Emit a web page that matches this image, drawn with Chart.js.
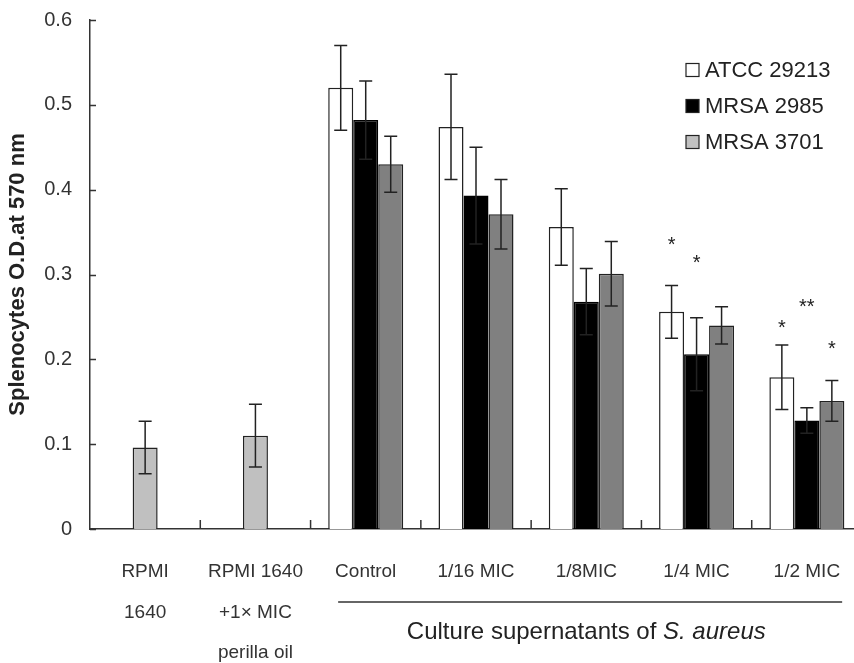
<!DOCTYPE html>
<html><head><meta charset="utf-8">
<script src="https://cdn.jsdelivr.net/npm/chart.js@4"></script>
<style>
html,body{margin:0;padding:0;background:#fff;overflow:hidden;width:854px;height:663px}
#wrap{position:relative;width:862px;height:663px}
</style></head>
<body><div id="wrap"><canvas id="c"></canvas></div>
<script>
// ---- data ----
const categories = [['RPMI','1640'], ['RPMI 1640','+1× MIC','perilla oil'], 'Control', '1/16 MIC', '1/8MIC', '1/4 MIC', '1/2 MIC'];
const seriesNames = ['ATCC 29213', 'MRSA 2985', 'MRSA 3701'];
const mediumValues   = [0.096, 0.110, null, null, null, null, null];
const mediumErrors   = [0.031, 0.037, null, null, null, null, null];
const atccValues     = [null, null, 0.520, 0.474, 0.356, 0.256, 0.179];
const atccErrors     = [null, null, 0.050, 0.062, 0.045, 0.031, 0.038];
const mrsa2985Values = [null, null, 0.482, 0.393, 0.268, 0.206, 0.128];
const mrsa2985Errors = [null, null, 0.046, 0.057, 0.039, 0.043, 0.015];
const mrsa3701Values = [null, null, 0.430, 0.371, 0.301, 0.240, 0.151];
const mrsa3701Errors = [null, null, 0.033, 0.041, 0.038, 0.022, 0.024];
const atccSig        = ['', '', '', '', '', '*', '*'];
const mrsa2985Sig    = ['', '', '', '', '', '*', '**'];
const mrsa3701Sig    = ['', '', '', '', '', '', '*'];
const atccSigLevel     = [null, null, null, null, null, 0.340, 0.242];
const mrsa2985SigLevel = [null, null, null, null, null, 0.318, 0.266];
const mrsa3701SigLevel = [null, null, null, null, null, null, 0.217];
const yTickValues = [0, 0.1, 0.2, 0.3, 0.4, 0.5, 0.6];
const yTitle = 'Splenocytes O.D.at 570 nm';
const groupTitleNormal = 'Culture supernatants of ';
const groupTitleItalic = 'S. aureus';

const FONT = '"Liberation Sans", Arial, sans-serif';

const decor = {
  id: 'decor',
  afterDatasetsDraw(chart) {
    const ctx = chart.ctx, y = chart.scales.y;
    chart.data.datasets.forEach((ds, di) => {
      const meta = chart.getDatasetMeta(di);
      meta.data.forEach((bar, i) => {
        const v = ds.data[i], e = ds.errors ? ds.errors[i] : null;
        if (v == null || e == null) return;
        const yt = y.getPixelForValue(v + e), yb = y.getPixelForValue(v - e);
        ctx.save();
        ctx.strokeStyle = '#222'; ctx.lineWidth = 1.5;
        ctx.beginPath();
        ctx.moveTo(bar.x, yt); ctx.lineTo(bar.x, yb);
        ctx.moveTo(bar.x - 6.5, yt); ctx.lineTo(bar.x + 6.5, yt);
        ctx.moveTo(bar.x - 6.5, yb); ctx.lineTo(bar.x + 6.5, yb);
        ctx.stroke();
        ctx.restore();
      });
      if (ds.sig) {
        ctx.save();
        ctx.fillStyle = '#222';
        ctx.font = '20px ' + FONT;
        ctx.textAlign = 'center';
        ctx.textBaseline = 'alphabetic';
        meta.data.forEach((bar, i) => {
          const s = ds.sig[i];
          if (!s) return;
          const m = ctx.measureText(s);
          const cy = y.getPixelForValue(ds.sigLevel[i]);
          ctx.fillText(s, bar.x, cy + (m.actualBoundingBoxAscent - m.actualBoundingBoxDescent) / 2);
        });
        ctx.restore();
      }
    });
  },
  afterDraw(chart) {
    const ctx = chart.ctx, x = chart.scales.x, y = chart.scales.y, a = chart.chartArea;
    ctx.save();
    ctx.strokeStyle = '#333'; ctx.lineWidth = 1.5;
    ctx.beginPath();
    yTickValues.forEach(v => {
      const py = Math.round(y.getPixelForValue(v)) + 0.5;
      ctx.moveTo(a.left, py); ctx.lineTo(a.left + 6, py);
    });
    for (let i = 0; i < categories.length - 1; i++) {
      const px = (x.getPixelForValue(i) + x.getPixelForValue(i + 1)) / 2;
      ctx.moveTo(px, a.bottom); ctx.lineTo(px, a.bottom - 9);
    }
    ctx.stroke();

    const step = x.getPixelForValue(1) - x.getPixelForValue(0);
    const x1 = x.getPixelForValue(2) - 0.25 * step;
    const x2 = x.getPixelForValue(6) + 0.32 * step;
    ctx.beginPath();
    ctx.moveTo(x1, a.bottom + 73); ctx.lineTo(x2, a.bottom + 73);
    ctx.stroke();

    const fN = '24px ' + FONT, fI = 'italic 24px ' + FONT;
    ctx.font = fN; const w1 = ctx.measureText(groupTitleNormal).width;
    ctx.font = fI; const w2 = ctx.measureText(groupTitleItalic).width;
    const cx = (x.getPixelForValue(2) + x.getPixelForValue(6)) / 2;
    const tx = cx - (w1 + w2) / 2;
    const ty = a.bottom + 103;
    ctx.fillStyle = '#222'; ctx.textBaseline = 'middle'; ctx.textAlign = 'left';
    ctx.font = fN; ctx.fillText(groupTitleNormal, tx, ty);
    ctx.font = fI; ctx.fillText(groupTitleItalic, tx + w1, ty);

    const lx = a.right - 176;
    ctx.font = '22px ' + FONT;
    chart.data.datasets.forEach(ds => {
      if (ds.legendRow == null) return;
      const ry = a.top + 50 + 36 * ds.legendRow;
      ctx.fillStyle = ds.legendColor;
      ctx.fillRect(lx, ry - 6.5, 13, 13);
      ctx.strokeStyle = '#222'; ctx.lineWidth = 1.2;
      ctx.strokeRect(lx, ry - 6.5, 13, 13);
      ctx.fillStyle = '#222';
      ctx.fillText(ds.label, lx + 19, ry + 1);
    });
    ctx.restore();
  }
};

new Chart(document.getElementById('c'), {
  type: 'bar',
  data: {
    labels: categories,
    datasets: [
      { label: 'RPMI 1640', data: mediumValues, errors: mediumErrors, grouped: false,
        maxBarThickness: 25, backgroundColor: '#c0c0c0', borderColor: '#222', borderWidth: 1.5 },
      { label: seriesNames[0], data: atccValues, errors: atccErrors, sig: atccSig, sigLevel: atccSigLevel,
        legendRow: 0, legendColor: '#ffffff', backgroundColor: '#ffffff', borderColor: '#222', borderWidth: 1.5 },
      { label: seriesNames[1], data: mrsa2985Values, errors: mrsa2985Errors, sig: mrsa2985Sig, sigLevel: mrsa2985SigLevel,
        legendRow: 1, legendColor: '#000000', backgroundColor: '#000000', borderColor: '#000', borderWidth: 1.5 },
      { label: seriesNames[2], data: mrsa3701Values, errors: mrsa3701Errors, sig: mrsa3701Sig, sigLevel: mrsa3701SigLevel,
        legendRow: 2, legendColor: '#c0c0c0', backgroundColor: '#808080', borderColor: '#222', borderWidth: 1.5 }
    ]
  },
  options: {
    responsive: true,
    maintainAspectRatio: false,
    animation: false,
    events: [],
    datasets: { bar: { categoryPercentage: 0.68, barPercentage: 1.0 } },
    layout: { padding: { top: 20, left: 0, right: 0, bottom: 0 } },
    plugins: { legend: { display: false }, tooltip: { enabled: false } },
    scales: {
      x: {
        grid: { display: false, drawTicks: false },
        border: { display: true, color: '#333', width: 1.5 },
        ticks: { autoSkip: false, maxRotation: 0, minRotation: 0, padding: 23, color: '#333',
                 font: { family: FONT, size: 19, lineHeight: 2.13 } },
        afterFit(scale) { scale.height = 134; scale.paddingLeft = 0; scale.paddingRight = 0; }
      },
      y: {
        min: 0, max: 0.6,
        afterBuildTicks(scale) { scale.ticks = yTickValues.map(v => ({ value: v })); },
        grid: { display: false, drawTicks: false },
        border: { display: true, color: '#333', width: 1.5 },
        ticks: { padding: 18, color: '#333', font: { family: FONT, size: 20 },
                 callback: v => v === 0 ? '0' : Number(v).toFixed(1) },
        title: { display: true, text: yTitle, color: '#222', padding: { top: 5, bottom: 0 },
                 font: { family: FONT, size: 22, weight: 'bold' } },
        afterFit(scale) { scale.width = 90; scale.paddingTop = 12; scale.paddingBottom = 0; }
      }
    }
  },
  plugins: [decor]
});
</script>
</body></html>
